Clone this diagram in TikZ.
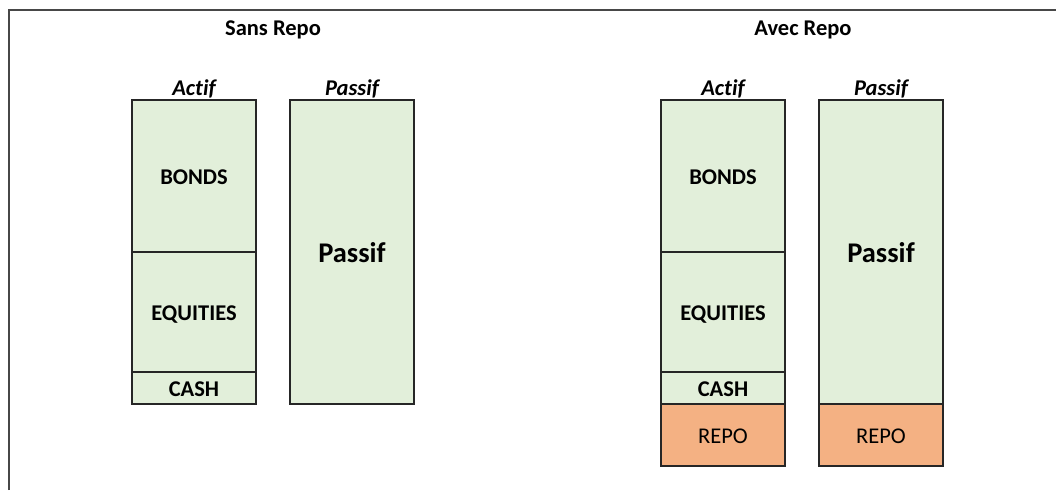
\documentclass[tikz,border=0pt]{standalone}
\usepackage{fontspec}
\setmainfont{Carlito}[Ligatures=NoCommon]
\definecolor{assetgreen}{HTML}{E2EFDA}
\definecolor{repoorange}{HTML}{F4B183}
\definecolor{edge}{HTML}{262626}
\begin{document}
\begin{tikzpicture}[x=1pt,y=-1pt,
  cell/.style={draw=edge,line width=1.6pt},
  green/.style={cell,fill=assetgreen},
  orange/.style={cell,fill=repoorange},
  lbl/.style={anchor=base,inner sep=0pt,font=\fontsize{22.5}{24}\selectfont\bfseries},
  replbl/.style={anchor=base,inner sep=0pt,font=\fontsize{22.5}{24}\selectfont},
  head/.style={anchor=base,inner sep=0pt,font=\fontsize{22.5}{24}\selectfont\bfseries\itshape},
  big/.style={anchor=base,inner sep=0pt,font=\fontsize{28.5}{30}\selectfont\bfseries}]
\useasboundingbox (0,0) rectangle (1056,490);
% outer frame, cut at the right and bottom
\draw[edge!85,line width=2pt] (9,490) -- (9,10) -- (1056,10);

% ---- Sans Repo ----
\node[lbl] (t1) at (273,35) {Sans Repo};
\node[head] (a1) at (194,95) {Actif};
\node[head] (p1) at (352,95) {Passif};
\draw[green] (132,100) rectangle (256,252);
\draw[green] (132,252) rectangle (256,372);
\draw[green] (132,372) rectangle (256,404);
\draw[green] (290,100) rectangle (414,404);
\node[lbl] (b1) at (194,184) {BONDS};
\node[lbl] (e1) at (194,320) {EQUITIES};
\node[lbl] (c1) at (194,396) {CASH};
\node[big] (pp1) at (352,262) {Passif};

% ---- Avec Repo ----
\node[lbl] (t2) at (803,35) {Avec Repo};
\node[head] (a2) at (723,95) {Actif};
\node[head] (p2) at (881,95) {Passif};
\draw[green] (661,100) rectangle (785,252);
\draw[green] (661,252) rectangle (785,372);
\draw[green] (661,372) rectangle (785,404);
\draw[orange] (661,404) rectangle (785,466);
\draw[green] (819,100) rectangle (943,404);
\draw[orange] (819,404) rectangle (943,466);
\node[lbl] (b2) at (723,184) {BONDS};
\node[lbl] (e2) at (723,320) {EQUITIES};
\node[lbl] (c2) at (723,396) {CASH};
\node[replbl] (r2) at (723,443) {REPO};
\node[big] (pp2) at (881,262) {Passif};
\node[replbl] (r3) at (881,443) {REPO};
\end{tikzpicture}
\end{document}
